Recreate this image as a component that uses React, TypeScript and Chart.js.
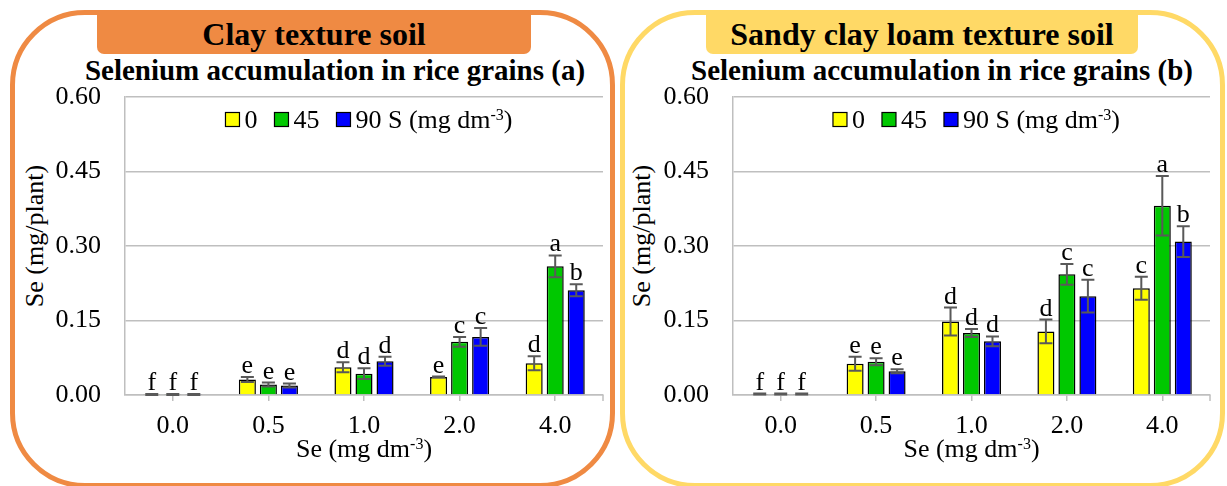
import React, { useEffect, useRef } from "react";
import { Chart, registerables } from "chart.js";

Chart.register(...registerables);

const FONT = "'Liberation Serif', 'Times New Roman', serif";
Chart.defaults.font.family = FONT;

// ---------- data ----------
const categories = ["0.0", "0.5", "1.0", "2.0", "4.0"];
const yTicks = [0, 0.15, 0.3, 0.45, 0.6];
const seriesLabels = ["0", "45", "90 S (mg dm^{-3})"];
const seriesColors = ["#FFFF00", "#00C800", "#0000FF"];
const xAxisTitle = "Se (mg dm^{-3})";
const yAxisTitle = "Se (mg/plant)";

// (a) Clay texture soil
const clayTitle = "Clay texture soil";
const claySubtitle = "Selenium accumulation in rice grains (a)";
const clayS0 = [0.001, 0.031, 0.056, 0.036, 0.064];
const clayS45 = [0.001, 0.021, 0.043, 0.107, 0.259];
const clayS90 = [0.001, 0.019, 0.068, 0.117, 0.211];
const clayS0Err = [0.001, 0.005, 0.010, 0.001, 0.014];
const clayS45Err = [0.001, 0.004, 0.011, 0.010, 0.022];
const clayS90Err = [0.001, 0.004, 0.009, 0.018, 0.012];
const clayS0Letters = ["f", "e", "d", "e", "d"];
const clayS45Letters = ["f", "e", "d", "c", "a"];
const clayS90Letters = ["f", "e", "d", "c", "b"];

// (b) Sandy clay loam texture soil
const sandyTitle = "Sandy clay loam texture soil";
const sandySubtitle = "Selenium accumulation in rice grains (b)";
const sandyS0 = [0.002, 0.063, 0.148, 0.128, 0.215];
const sandyS45 = [0.002, 0.067, 0.125, 0.243, 0.381];
const sandyS90 = [0.002, 0.048, 0.108, 0.199, 0.309];
const sandyS0Err = [0.001, 0.014, 0.028, 0.024, 0.023];
const sandyS45Err = [0.001, 0.007, 0.008, 0.021, 0.060];
const sandyS90Err = [0.001, 0.004, 0.010, 0.033, 0.031];
const sandyS0Letters = ["f", "e", "d", "d", "c"];
const sandyS45Letters = ["f", "e", "d", "c", "a"];
const sandyS90Letters = ["f", "e", "d", "c", "b"];

// ---------- helpers ----------
type Seg = { t: string; sup: boolean };
function parseRich(s: string): Seg[] {
  const out: Seg[] = [];
  const re = /\^\{([^}]*)\}/g;
  let last = 0;
  let m: RegExpExecArray | null;
  while ((m = re.exec(s))) {
    if (m.index > last) out.push({ t: s.slice(last, m.index), sup: false });
    out.push({ t: m[1], sup: true });
    last = m.index + m[0].length;
  }
  if (last < s.length) out.push({ t: s.slice(last), sup: false });
  return out;
}

function richWidth(ctx: CanvasRenderingContext2D, s: string, size: number) {
  let w = 0;
  for (const seg of parseRich(s)) {
    ctx.font = `${seg.sup ? Math.round(size * 0.62) : size}px ${FONT}`;
    w += ctx.measureText(seg.t).width;
  }
  return w;
}

function drawRich(ctx: CanvasRenderingContext2D, s: string, x: number, y: number, size: number) {
  let cx = x;
  ctx.textAlign = "left";
  ctx.textBaseline = "alphabetic";
  for (const seg of parseRich(s)) {
    ctx.font = `${seg.sup ? Math.round(size * 0.62) : size}px ${FONT}`;
    ctx.fillText(seg.t, cx, seg.sup ? y - size * 0.31 : y);
    cx += ctx.measureText(seg.t).width;
  }
}

const GRID = "#BFBFBF";

type PanelProps = {
  values: number[][];
  errors: number[][];
  letters: string[][];
  width: number;
  yWidth: number;
  padRight: number;
};

function SoilChart({ values, errors, letters, width, yWidth, padRight }: PanelProps) {
  const ref = useRef<HTMLCanvasElement>(null);
  useEffect(() => {
    const annot = {
      id: "annot",
      afterDatasetsDraw(chart: any) {
        const ctx: CanvasRenderingContext2D = chart.ctx;
        const ys = chart.scales.y;
        const area = chart.chartArea;
        ctx.save();
        chart.data.datasets.forEach((ds: any, i: number) => {
          const meta = chart.getDatasetMeta(i);
          meta.data.forEach((bar: any, j: number) => {
            const v = ds.data[j];
            const e = errors[i][j];
            const top = ys.getPixelForValue(v + e);
            const bot = ys.getPixelForValue(Math.max(0, v - e));
            const x = bar.x;
            ctx.strokeStyle = "#595959";
            ctx.lineWidth = 2;
            ctx.beginPath();
            ctx.moveTo(x, top);
            ctx.lineTo(x, bot);
            ctx.moveTo(x - 6.5, top);
            ctx.lineTo(x + 6.5, top);
            ctx.moveTo(x - 6.5, bot);
            ctx.lineTo(x + 6.5, bot);
            ctx.stroke();
            ctx.fillStyle = "#000";
            ctx.font = `26px ${FONT}`;
            ctx.textAlign = "center";
            ctx.textBaseline = "alphabetic";
            ctx.fillText(letters[i][j], x, top - 4);
          });
        });
        // right-end tick mark on the category axis
        ctx.strokeStyle = GRID;
        ctx.lineWidth = 1.5;
        ctx.beginPath();
        ctx.moveTo(area.right, area.bottom);
        ctx.lineTo(area.right, area.bottom + 6);
        ctx.stroke();

        // legend
        const size = 26;
        const gapBox = 5;
        const gapItem = 17;
        const box = 14;
        let total = 0;
        seriesLabels.forEach((lab, k) => {
          total += box + gapBox + richWidth(ctx, lab, size);
          if (k < seriesLabels.length - 1) total += gapItem;
        });
        let lx = (area.left + area.right) / 2 + 5 - total / 2;
        const ly = 128;
        seriesLabels.forEach((lab, k) => {
          ctx.fillStyle = seriesColors[k];
          ctx.fillRect(lx, 112.5, box, box);
          ctx.strokeStyle = "#000";
          ctx.lineWidth = 1.2;
          ctx.strokeRect(lx, 112.5, box, box);
          lx += box + gapBox;
          ctx.fillStyle = "#000";
          drawRich(ctx, lab, lx, ly, size);
          lx += richWidth(ctx, lab, size) + gapItem;
        });

        // x axis title
        const tw = richWidth(ctx, xAxisTitle, size);
        ctx.fillStyle = "#000";
        drawRich(ctx, xAxisTitle, (area.left + area.right) / 2 - tw / 2, 457, size);
        ctx.restore();
      },
    };

    const chart = new Chart(ref.current!, {
      type: "bar",
      data: {
        labels: categories,
        datasets: values.map((vals, i) => ({
          label: seriesLabels[i],
          data: vals,
          backgroundColor: seriesColors[i],
          borderColor: "#000",
          borderWidth: 1.5,
          categoryPercentage: 0.66,
          barPercentage: 0.81,
        })),
      },
      options: {
        responsive: false,
        animation: false,
        devicePixelRatio: 1,
        layout: { padding: { left: 0, right: padRight, top: 97, bottom: 0 } },
        plugins: {
          legend: { display: false },
          title: { display: false },
          tooltip: { enabled: false },
        },
        scales: {
          x: {
            offset: true,
            grid: {
              offset: false,
              drawOnChartArea: false,
              drawTicks: true,
              tickLength: 6,
              color: GRID,
              lineWidth: 1.5,
            },
            border: { color: GRID, width: 1.5 },
            ticks: { color: "#000", font: { size: 26, family: FONT }, padding: 10, maxRotation: 0 },
            afterFit: (s: any) => {
              s.height = 91;
            },
          },
          y: {
            min: 0,
            max: 0.6,
            afterBuildTicks: (s: any) => {
              s.ticks = yTicks.map((v) => ({ value: v }));
            },
            ticks: {
              color: "#000",
              font: { size: 26, family: FONT },
              padding: 24,
              callback: (v: any) => Number(v).toFixed(2),
            },
            grid: { color: GRID, lineWidth: 1.5, drawTicks: false },
            border: { color: GRID, width: 1.5 },
            afterFit: (s: any) => {
              s.width = yWidth;
            },
          },
        },
      },
      plugins: [annot],
    } as any);
    return () => chart.destroy();
  }, []);
  return (
    <canvas
      ref={ref}
      width={width}
      height={486}
      style={{ position: "absolute", left: 0, top: 0, width, height: 486 }}
    />
  );
}

type FrameProps = {
  left: number;
  color: string;
  title: string;
  titleLeft: number;
  titleWidth: number;
  subtitle: string;
  subCenter: number;
  yTitleX: number;
};

function Frame({ left, color, title, titleLeft, titleWidth, subtitle, subCenter, yTitleX }: FrameProps) {
  return (
    <>
      <div
        style={{
          position: "absolute",
          left,
          top: 10,
          width: 605,
          height: 478,
          border: `5px solid ${color}`,
          borderRadius: 75,
          boxSizing: "border-box",
        }}
      />
      <div
        style={{
          position: "absolute",
          left: titleLeft,
          top: 12,
          width: titleWidth,
          height: 42,
          background: color,
          borderBottomLeftRadius: 7,
          borderBottomRightRadius: 7,
        }}
      />
      <div
        style={{
          position: "absolute",
          left: titleLeft,
          top: 18,
          width: titleWidth,
          textAlign: "center",
          font: `bold 32px/32px ${FONT}`,
          whiteSpace: "nowrap",
          color: "#000",
        }}
      >
        {title}
      </div>
      <div
        style={{
          position: "absolute",
          left: subCenter - 300,
          top: 56,
          width: 600,
          textAlign: "center",
          font: `bold 29px/29px ${FONT}`,
          whiteSpace: "nowrap",
          color: "#000",
        }}
      >
        {subtitle}
      </div>
      <div
        style={{
          position: "absolute",
          left: yTitleX - 100,
          top: 236 - 13,
          width: 200,
          height: 26,
          textAlign: "center",
          font: `26px/26px ${FONT}`,
          whiteSpace: "nowrap",
          transform: "rotate(-90deg)",
          color: "#000",
        }}
      >
        {yAxisTitle}
      </div>
    </>
  );
}

export default function App() {
  return (
    <div
      style={{
        position: "absolute",
        left: 0,
        top: 0,
        width: 1227,
        height: 486,
        overflow: "hidden",
        background: "#fff",
      }}
    >
      <Frame
        left={10}
        color="#EF8A43"
        title={clayTitle}
        titleLeft={97}
        titleWidth={434}
        subtitle={claySubtitle}
        subCenter={335}
        yTitleX={35}
      />
      <Frame
        left={620}
        color="#FFD966"
        title={sandyTitle}
        titleLeft={706}
        titleWidth={432}
        subtitle={sandySubtitle}
        subCenter={942}
        yTitleX={642}
      />
      <div style={{ position: "absolute", left: 0, top: 0, width: 614, height: 486 }}>
        <SoilChart
          values={[clayS0, clayS45, clayS90]}
          errors={[clayS0Err, clayS45Err, clayS90Err]}
          letters={[clayS0Letters, clayS45Letters, clayS90Letters]}
          width={614}
          yWidth={125}
          padRight={11}
        />
      </div>
      <div style={{ position: "absolute", left: 614, top: 0, width: 613, height: 486 }}>
        <SoilChart
          values={[sandyS0, sandyS45, sandyS90]}
          errors={[sandyS0Err, sandyS45Err, sandyS90Err]}
          letters={[sandyS0Letters, sandyS45Letters, sandyS90Letters]}
          width={613}
          yWidth={119}
          padRight={17}
        />
      </div>
    </div>
  );
}
